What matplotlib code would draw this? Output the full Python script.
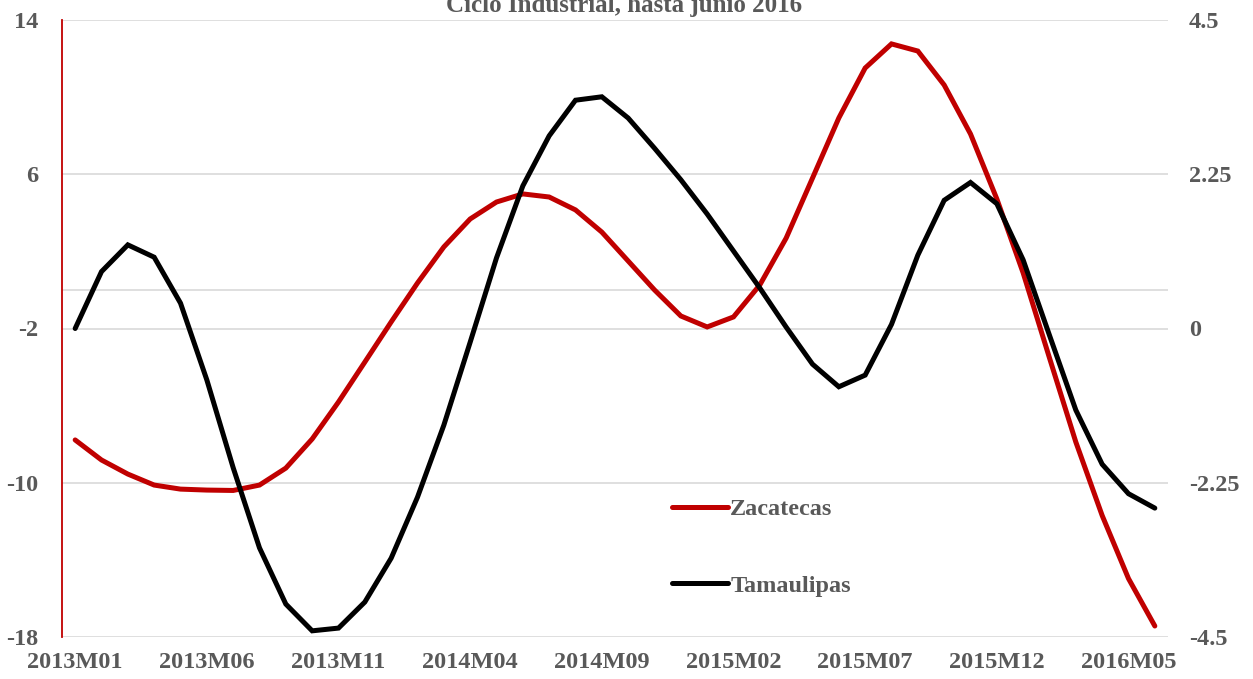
import matplotlib
matplotlib.use("Agg")
import matplotlib.pyplot as plt
import numpy as np

# monthly categories 2013M01 .. 2016M06
months = [f"{y}M{m:02d}" for y in (2013, 2014, 2015, 2016) for m in range(1, 13)][:42]

# Zacatecas, left axis
zacatecas = [-7.78, -8.82, -9.55, -10.12, -10.33, -10.38, -10.40, -10.12, -9.24, -7.73,
             -5.81, -3.74, -1.66, 0.36, 2.23, 3.68, 4.56, 4.98, 4.82, 4.15,
             3.00, 1.50, 0.00, -1.35, -1.92, -1.40, 0.26, 2.69, 5.80, 8.92,
             11.51, 12.76, 12.39, 10.63, 8.09, 4.72, 0.88, -3.53, -7.89, -11.70,
             -14.97, -17.43]

# Tamaulipas, right axis
tamaulipas = [0.00, 0.83, 1.22, 1.04, 0.37, -0.75, -2.03, -3.20, -4.02, -4.41,
              -4.37, -3.99, -3.35, -2.46, -1.41, -0.20, 1.03, 2.08, 2.81, 3.33,
              3.38, 3.07, 2.63, 2.17, 1.67, 1.13, 0.59, 0.02, -0.52, -0.85,
              -0.68, 0.06, 1.07, 1.87, 2.13, 1.82, 1.00, -0.10, -1.19, -1.98,
              -2.41, -2.62]

left_ticks = [-18, -10, -2, 6, 14]
right_ticks = [-4.5, -2.25, 0, 2.25, 4.5]
right_labels = ["-4.5", "-2.25", "0", "2.25", "4.5"]

GRAY = "#595959"
GRID = "#d9d9d9"
RED = "#c00000"
FONT = "Liberation Serif"

plt.rcParams["font.family"] = FONT
plt.rcParams["font.weight"] = "bold"
plt.rcParams["axes.unicode_minus"] = False

fig = plt.figure(figsize=(12.53, 6.79), dpi=100)
ax = fig.add_axes([62 / 1253, 42 / 679, 1106 / 1253, 617 / 679])
x = np.arange(len(months))

for t in left_ticks:
    ax.axhline(t, color=GRID, lw=1.2, zorder=0)
ax.axhline(0, color=GRID, lw=1.2, zorder=0)

l1, = ax.plot(x, zacatecas, color=RED, lw=3.6, solid_capstyle="round",
              solid_joinstyle="miter", label="Zacatecas")
ax.set_ylim(-18, 14)
ax.set_yticks(left_ticks)
ax.set_xlim(-0.5, len(months) - 0.5)
ax.set_xticks(x[::5])
ax.set_xticklabels(months[::5])

ax2 = ax.twinx()
l2, = ax2.plot(x, tamaulipas, color="black", lw=3.6, solid_capstyle="round",
               solid_joinstyle="miter", label="Tamaulipas")
ax2.set_ylim(-4.5, 4.5)
ax2.set_yticks(right_ticks)
ax2.set_yticklabels(right_labels)

for a in (ax, ax2):
    for s in ("top", "right", "bottom", "left"):
        a.spines[s].set_visible(False)
ax.spines["left"].set_visible(True)
ax.spines["left"].set_color(RED)
ax.spines["left"].set_linewidth(1.3)

ax.tick_params(axis="y", length=0, pad=17, labelsize=17.5, labelcolor=GRAY)
ax.tick_params(axis="x", length=0, pad=11, labelsize=17.5, labelcolor=GRAY)
ax2.tick_params(axis="y", length=0, pad=15, labelsize=17.5, labelcolor=GRAY)

leg = ax2.legend(handles=[l1, l2], loc="upper left",
                 bbox_to_anchor=(672 / 1253, 1 - 498 / 679),
                 bbox_transform=fig.transFigure, frameon=False,
                 fontsize=17.5, handlelength=2.3, handletextpad=0.1,
                 labelspacing=2.25, borderpad=0, borderaxespad=0)
for txt in leg.get_texts():
    txt.set_color(GRAY)

fig.text(624 / 1253, 1 - 12 / 679, "Ciclo Industrial, hasta junio 2016",
         ha="center", va="baseline", fontsize=18, color=GRAY, fontweight="bold")

fig.savefig("out.png", dpi=100)
